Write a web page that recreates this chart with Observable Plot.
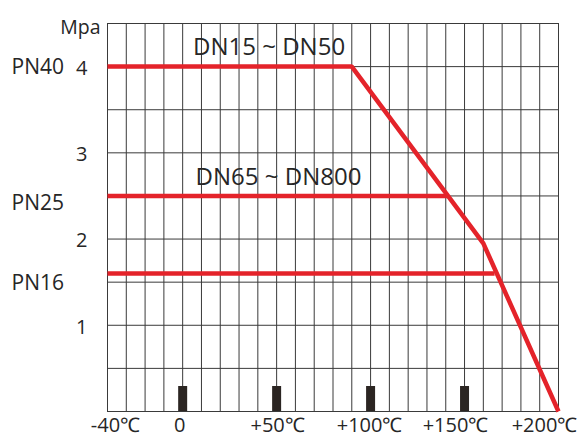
<!DOCTYPE html>
<html>
<head>
<meta charset="utf-8">
<script src="https://cdn.jsdelivr.net/npm/d3@7"></script>
<script src="https://cdn.jsdelivr.net/npm/@observablehq/plot@0.6"></script>
<style>
  html, body { margin: 0; padding: 0; background: #fff; }
  #chart svg { display: block; font-family: "Open Sans", sans-serif; }
</style>
</head>
<body>
<div id="chart"></div>
<script>
// Temperature (°C) and pressure (MPa) data
const curveTemp = [-40, 90, 160, 200];          // DN15~DN50 rating curve
const curvePress = [4, 4, 1.95, 0];
const pn25Temp = [-40, 141];                    // DN65~DN800 (PN25) line
const pn25Press = [2.5, 2.5];
const pn16Temp = [-40, 166];                    // PN16 line
const pn16Press = [1.6, 1.6];

const xTickValues = [-40, 0, 50, 100, 150, 200];
const xTickLabels = ["-40℃", "0", "+50℃", "+100℃", "+150℃", "+200℃"];
const markerTemps = [0, 50, 100, 150];
const yTickValues = [1, 2, 3, 4];
const pnNames = ["PN40", "PN25", "PN16"];
const pnValues = [4, 2.5, 1.6];
const seriesNames = ["DN15 ~ DN50", "DN65 ~ DN800"];
const seriesLabelT = [46, 51];
const seriesLabelP = [4, 2.5];

const gridX = d3.range(-40, 201, 10);
const gridY = d3.range(0, 4.51, 0.5);

const toPts = (ts, ps) => ts.map((t, i) => ({t, p: ps[i]}));
const red = "#e4232a";
const ink = "#262626";

const xDx = {"-40": 8, "0": -3, "50": 1, "100": -1, "150": -9, "200": -14};
const pnDy = [1, 7, 10];

const marks = [
  Plot.ruleX(gridX, {stroke: "#3a3a3a", strokeWidth: 1}),
  Plot.ruleY(gridY, {stroke: "#3a3a3a", strokeWidth: 1}),
  Plot.ruleX(markerTemps, {y1: 0, y2: 0.29, stroke: "#2b2522", strokeWidth: 9}),
  Plot.line(toPts(curveTemp, curvePress), {x: "t", y: "p", stroke: red, strokeWidth: 4.5, strokeLinecap: "butt", strokeLinejoin: "miter"}),
  Plot.line(toPts(pn25Temp, pn25Press), {x: "t", y: "p", stroke: red, strokeWidth: 4.5, strokeLinecap: "butt"}),
  Plot.line(toPts(pn16Temp, pn16Press), {x: "t", y: "p", stroke: red, strokeWidth: 4.5, strokeLinecap: "butt"}),
  // y tick labels
  Plot.text(yTickValues, {y: d => d, text: d => String(d), frameAnchor: "left", dx: -20, dy: 2, textAnchor: "end", fontSize: 20, fill: ink}),
  // Mpa unit
  Plot.text(["Mpa"], {frameAnchor: "top-left", dx: -7, dy: -3, textAnchor: "end", fontSize: 19.5, fill: ink}),
  // series labels
  Plot.text(seriesNames, {x: (d, i) => seriesLabelT[i], y: (d, i) => seriesLabelP[i], dy: -19, text: d => d, fontSize: 24, fill: ink}),
  // x tick labels
  ...xTickValues.map((v, i) => Plot.text([v], {x: d => d, text: () => xTickLabels[i], frameAnchor: "bottom", dy: 20, dx: xDx[String(v)], fontSize: 20, fill: ink})),
  // PN labels
  ...pnNames.map((n, i) => Plot.text([pnValues[i]], {y: d => d, text: () => n, frameAnchor: "left", dx: -96, dy: pnDy[i], textAnchor: "start", fontSize: 21, fill: ink}))
];

const chart = Plot.plot({
  width: 582,
  height: 439,
  marginLeft: 107,
  marginRight: 24,
  marginTop: 23,
  marginBottom: 28,
  x: {domain: [-40, 200], axis: null},
  y: {domain: [0, 4.5], axis: null},
  marks
});
document.getElementById("chart").appendChild(chart);
</script>
</body>
</html>
